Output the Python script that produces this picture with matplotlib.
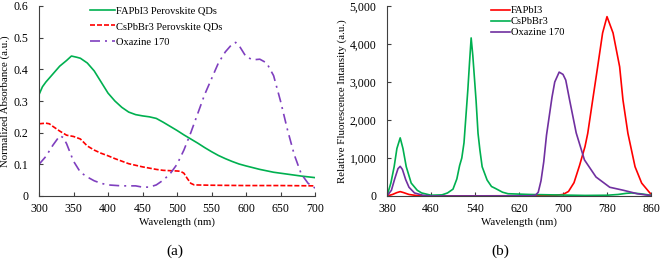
import matplotlib
matplotlib.use("Agg")
import matplotlib.pyplot as plt
from matplotlib.ticker import FuncFormatter

plt.rcParams['font.family'] = ['Liberation Serif', 'DejaVu Serif']

# ---- Panel (a): absorbance ----
fa_wl = [300, 305, 310, 320, 330, 340, 347, 355, 360, 370, 380, 390, 400, 410, 420, 430, 440, 450, 460, 470,
         480, 490, 500, 510, 520, 530, 540, 550, 560, 570, 580, 590, 600, 620, 640, 660, 680, 700]
fa_abs = [0.32, 0.345, 0.36, 0.385, 0.41, 0.428, 0.442, 0.438, 0.435, 0.42, 0.395, 0.36, 0.325, 0.3, 0.28,
          0.265, 0.257, 0.253, 0.25, 0.245, 0.233, 0.22, 0.207, 0.193, 0.18, 0.167, 0.153, 0.14, 0.128,
          0.118, 0.109, 0.101, 0.095, 0.084, 0.075, 0.069, 0.063, 0.058]

cs_wl = [300, 310, 315, 320, 330, 340, 350, 360, 370, 380, 390, 400, 410, 420, 430, 440, 450, 460,
         470, 480, 490, 500, 505, 510, 515, 520, 525, 550, 600, 650, 700]
cs_abs = [0.228, 0.23, 0.228, 0.22, 0.205, 0.192, 0.188, 0.18, 0.158, 0.145, 0.135, 0.127, 0.118,
          0.11, 0.102, 0.097, 0.092, 0.088, 0.084, 0.081, 0.08, 0.079, 0.078, 0.072, 0.055, 0.04,
          0.035, 0.034, 0.033, 0.033, 0.032]

ox_wl = [300, 310, 320, 330, 335, 340, 350, 360, 370, 380, 390, 400, 420, 440, 450, 460, 470, 480,
         490, 500, 510, 520, 530, 540, 550, 560, 570, 580, 585, 590, 600, 610, 620, 630, 640, 650,
         660, 670, 680, 690, 700]
ox_abs = [0.1, 0.125, 0.16, 0.19, 0.185, 0.165, 0.11, 0.075, 0.06, 0.048, 0.04, 0.035, 0.032, 0.032,
          0.028, 0.028, 0.035, 0.05, 0.07, 0.1, 0.145, 0.2, 0.26, 0.32, 0.37, 0.42, 0.455, 0.48,
          0.485, 0.475, 0.44, 0.43, 0.432, 0.42, 0.38, 0.3, 0.21, 0.13, 0.07, 0.04, 0.025]

# ---- Panel (b): fluorescence ----
pl_fa_wl = [380, 390, 398, 404, 410, 420, 435, 460, 680, 700, 710, 720, 730, 740, 745, 754, 763, 772,
            780, 791, 803, 809, 818, 831, 843, 858, 860]
pl_fa = [0, 40, 90, 115, 90, 40, 10, 0, 10, 40, 120, 350, 800, 1300, 1650, 2530, 3400, 4290,
         4720, 4290, 3400, 2530, 1650, 770, 340, 80, 50]

pl_cs_wl = [380, 387, 393, 398, 404, 409, 415, 424, 435, 443, 460, 480, 490, 500, 507, 512, 516,
            520, 524, 527, 530, 533, 536, 538, 542, 545.5, 549, 553, 562, 570, 577, 590, 600, 640,
            700, 740, 780, 800, 815, 825, 840, 860]
pl_cs = [0, 340, 770, 1250, 1530, 1250, 770, 340, 150, 80, 20, 30, 80, 180, 450, 800, 1000,
         1400, 2200, 2800, 3500, 4160, 3700, 3300, 2500, 1650, 1200, 770, 420, 250, 200, 100, 60, 40,
         25, 15, 20, 40, 70, 80, 60, 20]

pl_ox_wl = [380, 388, 394, 400, 404, 408, 414, 420, 430, 445, 460, 640, 650, 655, 660, 665, 670,
            675, 680, 685, 693, 700, 705, 712, 724, 739, 760, 785, 810, 835, 860]
pl_ox = [0, 150, 450, 720, 780, 700, 430, 230, 80, 20, 0, 5, 20, 100, 400, 900, 1600,
         2100, 2600, 3000, 3260, 3200, 3050, 2526, 1660, 950, 500, 230, 150, 60, 10]

xa_ticks = [300, 350, 400, 450, 500, 550, 600, 650, 700]
ya_ticks = [0, 0.1, 0.2, 0.3, 0.4, 0.5, 0.6]
xb_ticks = [380, 460, 540, 620, 700, 780, 860]
yb_ticks = [0, 1000, 2000, 3000, 4000, 5000]

GREEN = '#00B050'
RED = '#FF0000'
PURPLE_A = '#7F3FBF'
PURPLE_B = '#7030A0'

fig = plt.figure(figsize=(6.61, 2.66), dpi=100)
W, H = 661, 266
ax1 = fig.add_axes([39 / W, 1 - 196 / H, (315 - 39) / W, (196 - 6) / H])
ax2 = fig.add_axes([387 / W, 1 - 196 / H, (651 - 387) / W, (196 - 6) / H])

fs_tick = 8.5
fs_lab = 7.8
fs_leg = 7.6
for ax in (ax1, ax2):
    for s in ('top', 'right'):
        ax.spines[s].set_visible(False)
    for s in ('left', 'bottom'):
        ax.spines[s].set_color('#404040')
        ax.spines[s].set_linewidth(0.8)
    ax.tick_params(direction='in', length=3, width=0.8, colors='#404040', labelsize=fs_tick,
                   labelcolor='black')
    ax.tick_params(axis='x', pad=5)
    ax.tick_params(axis='y', pad=7.5)

ax1.plot(fa_wl, fa_abs, color=GREEN, lw=1.2, label='FAPbI3 Perovskite QDs')
ax1.plot(cs_wl, cs_abs, color=RED, lw=1.2, ls=(0, (3, 1.2)), label='CsPbBr3 Perovskite QDs')
ax1.plot(ox_wl, ox_abs, color=PURPLE_A, lw=1.2, ls=(0, (6, 3, 1.2, 3)), label='Oxazine 170')
ax1.set_xlim(300, 700)
ax1.set_ylim(0, 0.6)
ax1.set_xticks(xa_ticks)
ax1.set_yticks(ya_ticks)
ax1.yaxis.set_major_formatter(FuncFormatter(lambda v, p: '0' if v == 0 else f'{v:.1f}'))
ax1.set_xlabel('Wavelength (nm)', fontsize=fs_lab, labelpad=2)
ax1.set_ylabel('Normalized Absorbance (a.u.)', fontsize=fs_lab, labelpad=3)
ax1.legend(loc='upper left', bbox_to_anchor=(0.185, 1.0), frameon=False, fontsize=fs_leg,
           handlelength=2.4, handletextpad=0.1, labelspacing=0.6, borderaxespad=0, borderpad=0)

ax2.plot(pl_fa_wl, pl_fa, color=RED, lw=1.2, label='FAPbI3')
ax2.plot(pl_cs_wl, pl_cs, color=GREEN, lw=1.2, label='CsPbBr3')
ax2.plot(pl_ox_wl, pl_ox, color=PURPLE_B, lw=1.2, label='Oxazine 170')
ax2.set_xlim(380, 860)
ax2.set_ylim(0, 5000)
ax2.set_xticks(xb_ticks)
ax2.set_yticks(yb_ticks)
ax2.yaxis.set_major_formatter(FuncFormatter(lambda v, p: f'{int(v):,}'))
ax2.set_xlabel('Wavelength (nm)', fontsize=fs_lab, labelpad=2)
ax2.set_ylabel('Relative Fluorescence Intansity (a.u.)', fontsize=fs_lab, labelpad=2)
ax2.legend(loc='upper left', bbox_to_anchor=(0.395, 1.0), frameon=False, fontsize=fs_leg,
           handlelength=1.75, handletextpad=0.1, labelspacing=0.15, borderaxespad=0, borderpad=0)

fig.text(175 / W, 1 - 251 / H, '(a)', ha='center', va='center', fontsize=11)
fig.text(500 / W, 1 - 251 / H, '(b)', ha='center', va='center', fontsize=11)

fig.savefig('out.png', dpi=100)
